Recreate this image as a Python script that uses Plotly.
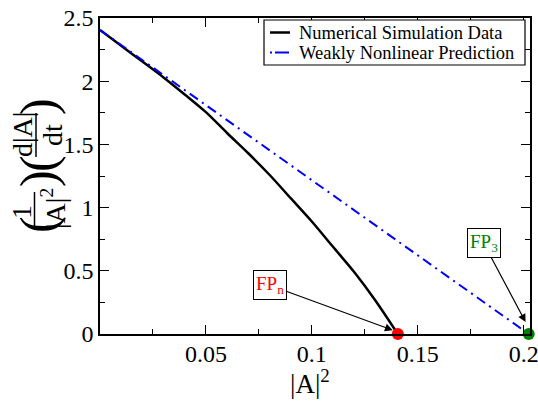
import plotly.graph_objects as go

# ---- data ----
x_num = [0.0, 0.01, 0.02, 0.03, 0.04, 0.05, 0.06, 0.07, 0.08, 0.09, 0.10, 0.11, 0.12, 0.13, 0.1406]
y_num = [2.405, 2.28, 2.155, 2.03, 1.895, 1.755, 1.59, 1.43, 1.26, 1.075, 0.89, 0.69, 0.49, 0.265, 0.0]

x_wnl = [0.0, 0.2024]
y_wnl = [2.405, 0.0]

fp_x = [0.1406, 0.2024]
fp_y = [0.0, 0.0]
fp_colors = ["#ff0000", "#008000"]

series_names = ["Numerical Simulation Data", "Weakly Nonlinear Prediction"]

x_tickvals = [0.05, 0.1, 0.15, 0.2]
x_ticktext = ["0.05", "0.1", "0.15", "0.2"]
y_tickvals = [0, 0.5, 1, 1.5, 2, 2.5]
y_ticktext = ["0", "0.5", "1", "1.5", "2", "2.5"]

FONT = "Liberation Serif, Times New Roman, serif"
W, H = 538, 403
L, R, T, B = 100, 8, 18, 69
PW, PH = W - L - R, H - T - B
BLUE_DASH = "10px,5px,2px,5px"


def px(xp):
    return (xp - L) / PW


def py(yp):
    return (H - B - yp) / PH


fig = go.Figure()
fig.add_trace(go.Scatter(
    x=x_num, y=y_num, mode="lines", name=series_names[0], showlegend=False,
    line=dict(color="black", width=2.5, shape="spline", smoothing=0.8), cliponaxis=False))
fig.add_trace(go.Scatter(
    x=x_wnl, y=y_wnl, mode="lines", name=series_names[1], showlegend=False,
    line=dict(color="#0000ff", width=2, dash=BLUE_DASH)))
fig.add_trace(go.Scatter(
    x=fp_x, y=fp_y, mode="markers", showlegend=False, cliponaxis=False,
    marker=dict(color=fp_colors, size=12, line=dict(width=0))))

axis_common = dict(
    showline=True, linecolor="black", linewidth=1.5, mirror="ticks",
    ticks="inside", ticklen=9, tickwidth=1.3, tickcolor="black",
    showgrid=False, zeroline=False, automargin=False,
    ticklabeloverflow="allow",
    tickfont=dict(family=FONT, size=24, color="black"),
)
fig.update_xaxes(range=[0, 0.203], tickvals=x_tickvals, ticktext=x_ticktext,
                 ticklabelstandoff=-3,
                 minor=dict(ticks="inside", ticklen=5, dtick=0.025, tick0=0,
                            tickcolor="black", tickwidth=1.3),
                 **axis_common)
fig.update_yaxes(range=[0, 2.5], tickvals=y_tickvals, ticktext=y_ticktext,
                 minor=dict(ticks="inside", ticklen=5, dtick=0.25, tick0=0,
                            tickcolor="black", tickwidth=1.3),
                 **axis_common)

ann = []
shapes = []
# x axis title
ann.append(dict(xref="paper", yref="paper", x=px(310), y=py(382), showarrow=False,
                text="|A|<sup>2</sup>", font=dict(family=FONT, size=27, color="black"),
                xanchor="center", yanchor="middle"))

# y axis title assembled from pieces (rotated)
def rot(text, xp, yp, size):
    ann.append(dict(xref="paper", yref="paper", x=px(xp), y=py(yp), showarrow=False,
                    text=text, textangle=-90, font=dict(family=FONT, size=size, color="black"),
                    xanchor="center", yanchor="middle"))

rot("(", 38, 224, 50)
rot("1", 22, 212, 28)
rot("|A|<sup>2</sup>", 53, 209, 28)
rot(")", 38, 178, 50)
rot("(", 38, 163, 50)
rot("d|A|", 22, 135, 28)
rot("dt", 52, 135, 28)
rot(")", 38, 106, 50)
shapes.append(dict(type="line", xref="paper", yref="paper", x0=px(34.5), x1=px(34.5),
                   y0=py(192), y1=py(230), line=dict(color="black", width=1.5)))
shapes.append(dict(type="line", xref="paper", yref="paper", x0=px(36), x1=px(36),
                   y0=py(113), y1=py(157), line=dict(color="black", width=1.5)))

# legend (drawn manually to match the compact reference legend)
legend_rows = [32.5, 52.5]
shapes.append(dict(type="rect", xref="paper", yref="paper", x0=px(264), x1=px(525),
                   y0=py(65), y1=py(20), line=dict(color="black", width=1.2),
                   fillcolor="white", layer="above"))
shapes.append(dict(type="line", xref="paper", yref="paper", x0=px(270), x1=px(290),
                   y0=py(legend_rows[0]), y1=py(legend_rows[0]), line=dict(color="black", width=2.5)))
shapes.append(dict(type="line", xref="paper", yref="paper", x0=px(270), x1=px(290),
                   y0=py(legend_rows[1]), y1=py(legend_rows[1]),
                   line=dict(color="#0000ff", width=2, dash="2px,3px,14px,5px")))
for name, yc in zip(series_names, legend_rows):
    ann.append(dict(xref="paper", yref="paper", x=px(297), y=py(yc), showarrow=False,
                    text=name, font=dict(family=FONT, size=18.5, color="black"),
                    xanchor="left", yanchor="middle"))

# fixed point labels
ann.append(dict(x=0.1382, y=0.03, xref="x", yref="y", ax=-123, ay=-45,
                text="FP<sub>n</sub>", font=dict(family=FONT, size=19, color="#ff0000"),
                showarrow=True, arrowhead=2, arrowsize=1.3, arrowwidth=1.2, arrowcolor="black",
                bordercolor="black", borderwidth=1, borderpad=2, bgcolor="white"))
ann.append(dict(x=0.2009, y=0.095, xref="x", yref="y", ax=-42, ay=-79,
                text="FP<sub>3</sub>", font=dict(family=FONT, size=19, color="#008000"),
                showarrow=True, arrowhead=2, arrowsize=1.3, arrowwidth=1.2, arrowcolor="black",
                bordercolor="black", borderwidth=1, borderpad=2, bgcolor="white"))

fig.update_layout(
    width=W, height=H, autosize=False, showlegend=False,
    margin=dict(l=L, r=R, t=T, b=B, pad=0, autoexpand=False),
    paper_bgcolor="white", plot_bgcolor="white",
    font=dict(family=FONT, color="black"),
    annotations=ann, shapes=shapes,
)

fig.write_html("out.html", config={"displayModeBar": False},
               post_script="document.body.style.margin='0px';document.body.style.overflow='hidden';")
